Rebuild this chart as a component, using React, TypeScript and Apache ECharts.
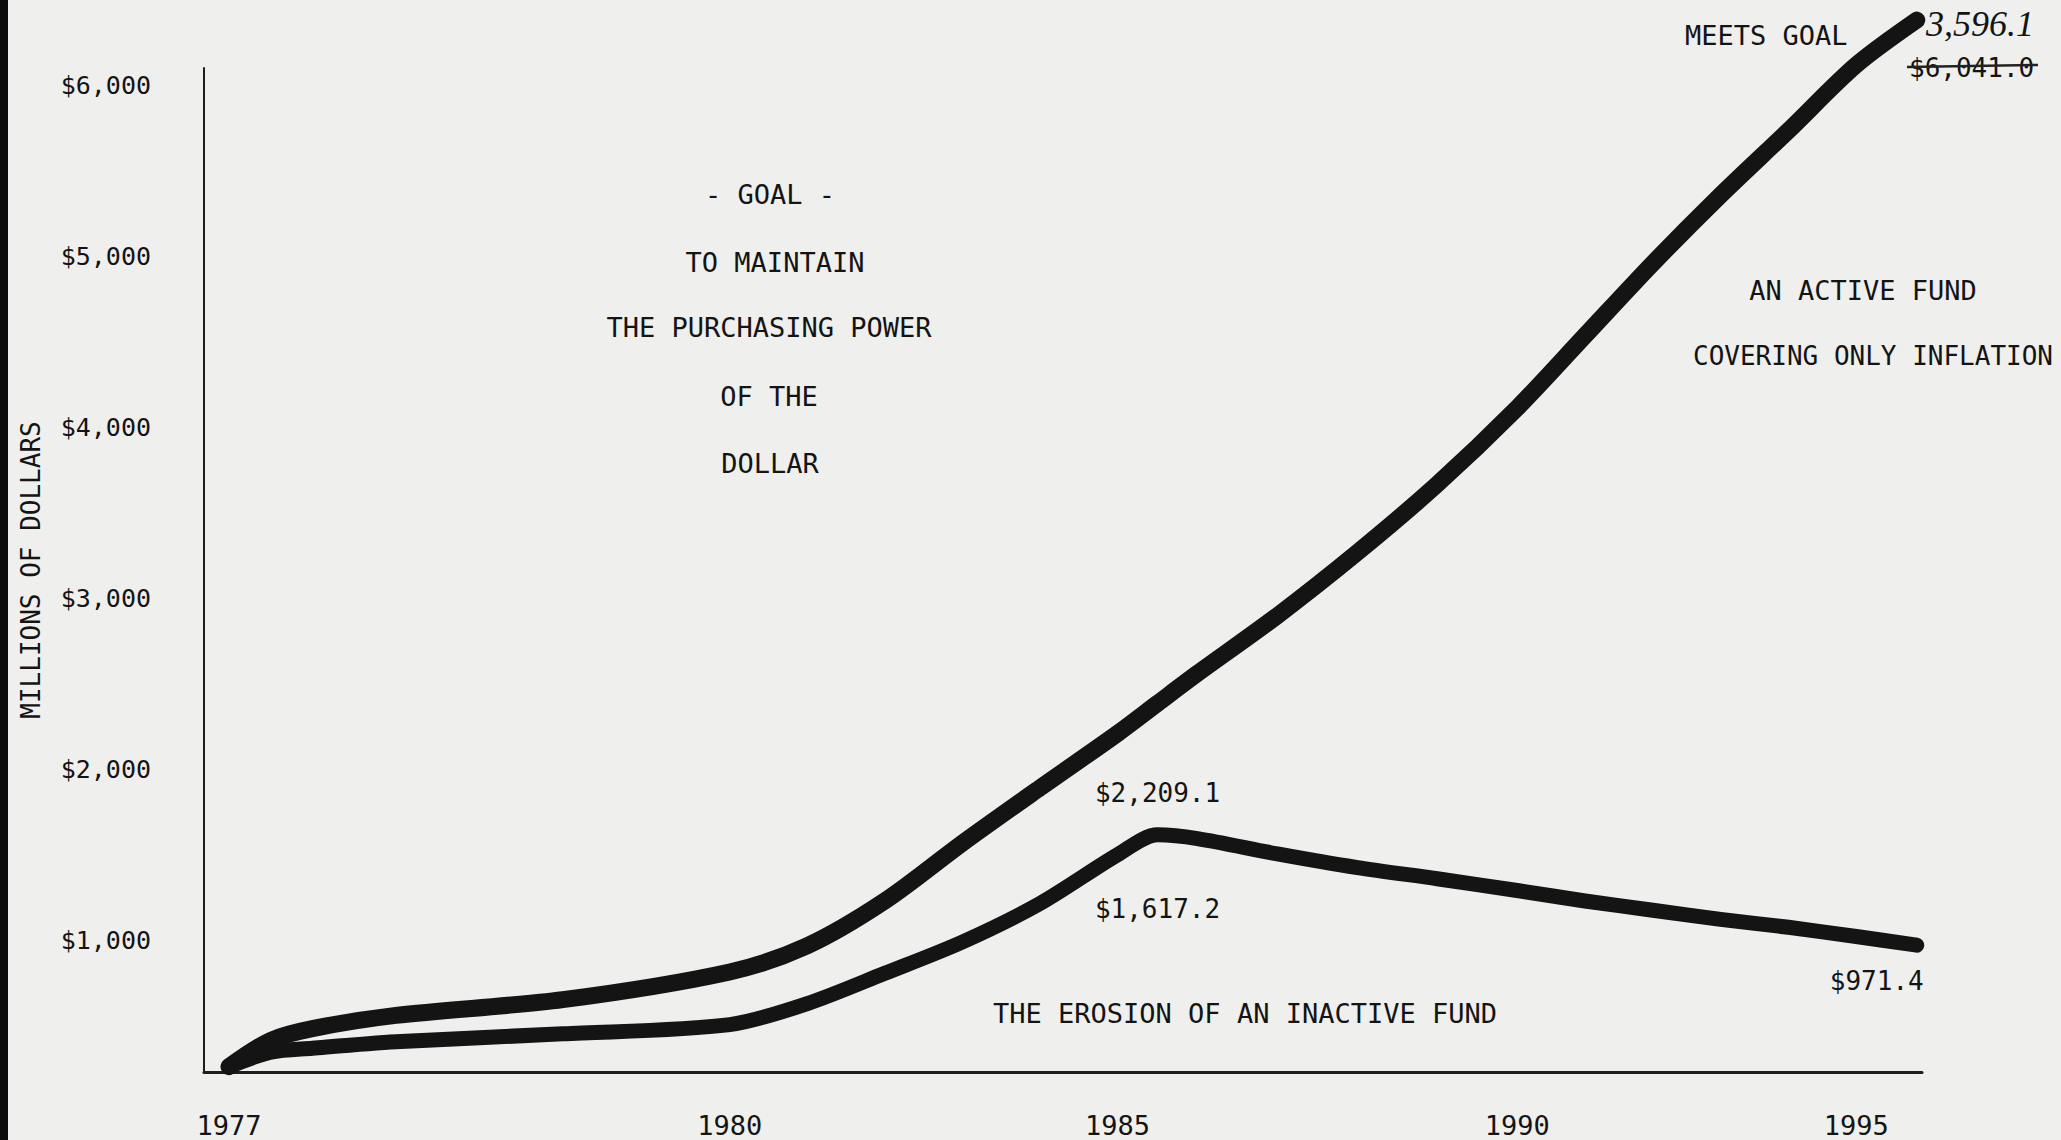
import React, { useEffect, useRef } from "react";
import * as echarts from "echarts";

// ---- data ($ millions) ----
const years = [1977, 1977.25, 1977.5, 1978, 1979, 1980, 1981, 1982, 1983, 1984, 1985, 1985.5, 1986, 1987, 1988, 1989, 1990, 1991, 1992, 1993, 1994, 1995, 1996];
const activeFund = [261, 415, 484, 561, 653, 815, 968, 1230, 1568, 1891, 2209.1, 2385, 2560, 2898, 3267, 3666, 4112, 4535, 4958, 5357, 5734, 6118, 6380];
const inactiveFund = [261, 346, 369, 407, 453, 507, 630, 807, 990, 1215, 1500, 1617.2, 1595, 1505, 1425, 1360, 1291, 1230, 1176, 1122, 1076, 1022, 971.4];

// tick labels
const yearTickLabels = [1977, 1980, 1985, 1990, 1995];
const valueTickLabels = [1000, 2000, 3000, 4000, 5000, 6000];

// the original time axis is unevenly spaced: relative spacing of its year marks
const axisYears = [1977, 1980, 1985, 1990, 1995, 1996];
const axisSpacing = [0, 381, 676, 980, 1238, 1284];

// data points that carry a value callout
const activeCallouts = [1985];
const inactiveCallouts = [1985.5, 1996];

const FONT = "'DejaVu Sans Mono', monospace";
const INK = "#141414";

function yearToPos(y: number): number {
  const n = axisYears.length;
  let i = 0;
  if (y <= axisYears[0]) i = 0;
  else if (y >= axisYears[n - 1]) i = n - 2;
  else {
    while (i < n - 2 && y > axisYears[i + 1]) i++;
  }
  const t = (y - axisYears[i]) / (axisYears[i + 1] - axisYears[i]);
  return axisSpacing[i] + t * (axisSpacing[i + 1] - axisSpacing[i]);
}

function posToYear(p: number): number {
  const n = axisSpacing.length;
  let i = 0;
  if (p <= axisSpacing[0]) i = 0;
  else if (p >= axisSpacing[n - 1]) i = n - 2;
  else {
    while (i < n - 2 && p > axisSpacing[i + 1]) i++;
  }
  const t = (p - axisSpacing[i]) / (axisSpacing[i + 1] - axisSpacing[i]);
  return axisYears[i] + t * (axisYears[i + 1] - axisYears[i]);
}

const money = (v: number) =>
  "$" + v.toLocaleString("en-US", { minimumFractionDigits: 1, maximumFractionDigits: 1 });

export default function App() {
  const ref = useRef<HTMLDivElement>(null);

  useEffect(() => {
    if (!ref.current) return;
    const chart = echarts.init(ref.current, undefined, { renderer: "svg" });

    const calloutOffsets: Record<string, number[]> = {
      "a1985": [40, 60],
      "i1985.5": [0, 74],
      "i1996": [-40, 36],
    };

    const build = (vals: number[], key: string, callouts: number[]) =>
      years.map((yr, i) => {
        const item: any = { value: [yearToPos(yr), vals[i]] };
        if (callouts.includes(yr)) {
          item.label = {
            show: true,
            position: "inside",
            offset: calloutOffsets[key + yr],
            formatter: () => money(vals[i]),
            fontFamily: FONT,
            fontSize: 26,
            color: INK,
          };
        }
        return item;
      });

    const lineSeries = (name: string, data: any[], width: number) => ({
      name,
      type: "line",
      data,
      smooth: 0.3,
      symbol: "circle",
      symbolSize: 1,
      showSymbol: true,
      clip: false,
      itemStyle: { color: INK },
      lineStyle: { color: INK, width, cap: "round", join: "round" },
      label: { show: false },
    });

    const txt = (text: string, x: number, y: number, align = "center", extra: any = {}) => ({
      type: "text",
      x,
      y,
      style: {
        text,
        fill: INK,
        fontFamily: FONT,
        fontSize: 27,
        align,
        verticalAlign: "middle",
        ...extra,
      },
    });

    chart.setOption({
      animation: false,
      backgroundColor: "#efefed",
      grid: { left: 204, right: 139, top: 68, bottom: 68, containLabel: false, outerBoundsMode: "none" },
      xAxis: {
        type: "value",
        min: -19,
        max: 1288,
        axisLine: { show: true, onZero: false, lineStyle: { color: "#1e1e1e", width: 3 } },
        axisTick: { show: false },
        splitLine: { show: false },
        axisLabel: {
          customValues: yearTickLabels.map(yearToPos),
          formatter: (v: number) => String(Math.round(posToYear(v))),
          margin: 40,
          fontFamily: FONT,
          fontSize: 27,
          color: INK,
        },
      },
      yAxis: {
        type: "value",
        min: 230,
        max: 6100,
        axisLine: { show: true, onZero: false, lineStyle: { color: "#1e1e1e", width: 2 } },
        axisTick: { show: false },
        splitLine: { show: false },
        axisLabel: {
          customValues: valueTickLabels,
          formatter: (v: number) => "$" + v.toLocaleString("en-US"),
          margin: 53,
          fontFamily: FONT,
          fontSize: 25,
          color: INK,
        },
        name: "MILLIONS OF DOLLARS",
        nameLocation: "middle",
        nameRotate: 90,
        nameGap: 160,
        nameTextStyle: { fontFamily: FONT, fontSize: 26, color: INK },
      },
      series: [
        lineSeries("An active fund covering only inflation", build(activeFund, "a", activeCallouts), 17),
        lineSeries("The erosion of an inactive fund", build(inactiveFund, "i", inactiveCallouts), 15),
      ],
      graphic: [
        { type: "rect", shape: { x: 0, y: 0, width: 8, height: 1140 }, style: { fill: "#0b0b0b" } },
        txt("- GOAL -", 770, 194),
        txt("TO MAINTAIN", 775, 262),
        txt("THE PURCHASING POWER", 769, 327),
        txt("OF THE", 769, 396),
        txt("DOLLAR", 770, 463),
        txt("MEETS GOAL", 1685, 35, "left"),
        txt("3,596.1", 1926, 24, "left", { fontFamily: "'Liberation Serif', serif", fontStyle: "italic", fontSize: 36 }),
        txt("$6,041.0", 1909, 68, "left", { fontSize: 26 }),
        { type: "line", shape: { x1: 1907, y1: 67, x2: 2038, y2: 65 }, style: { stroke: "#222", lineWidth: 2.5 } },
        txt("AN ACTIVE FUND", 1863, 290),
        txt("COVERING ONLY INFLATION", 1693, 356, "left", { fontSize: 26 }),
        txt("THE EROSION OF AN INACTIVE FUND", 1245, 1013),
      ],
    });

    return () => chart.dispose();
  }, []);

  return (
    <div
      ref={ref}
      style={{ position: "fixed", left: 0, top: 0, width: 2061, height: 1140, background: "#efefed" }}
    />
  );
}
